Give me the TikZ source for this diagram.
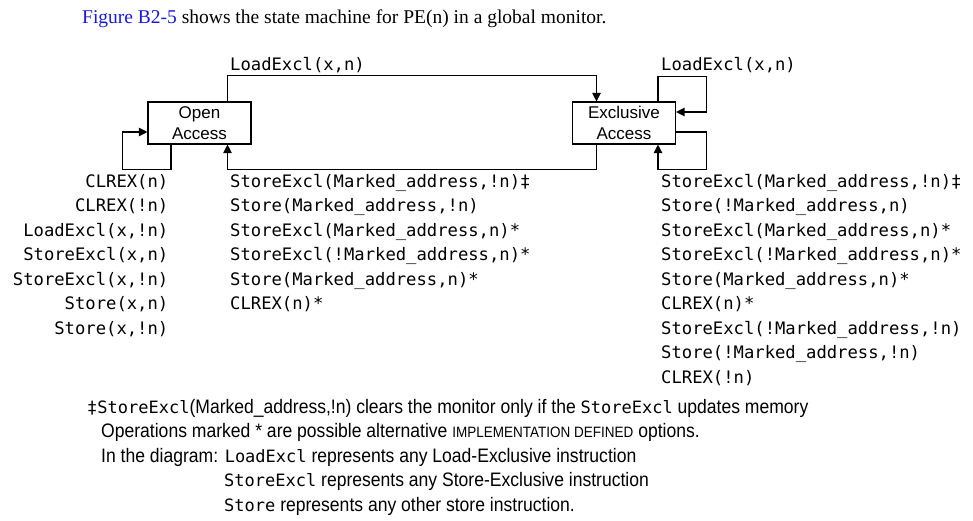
\documentclass[tikz,border=0pt]{standalone}
\usepackage{fontspec}
\setmainfont{Liberation Serif}
\newfontfamily\monofont{DejaVu Sans Mono}
\newfontfamily\boxfont{Liberation Sans}
\newfontfamily\notefont{Liberation Sans}[FakeStretch=0.9]
\usetikzlibrary{arrows.meta}
\definecolor{linkblue}{RGB}{25,25,225}
\newcommand\opname[1]{{\monofont\fontsize{17}{22}\selectfont #1}}

\begin{document}
\begin{tikzpicture}[
    x=1pt,
    y=-1pt,
    line join=miter,
    state/.style={draw,line width=1.1pt,minimum width=103pt,minimum height=42pt,
        inner sep=0pt,align=center,font=\boxfont\fontsize{17}{20.7}\selectfont},
    link/.style={line width=1.1pt,-{Triangle[length=8.5pt,width=8.5pt]}},
    mono/.style={inner sep=0pt,font=\monofont\fontsize{17.2}{20}\selectfont},
    note/.style={inner sep=0pt,anchor=base west,font=\notefont\fontsize{19.5}{22}\selectfont}
]

% =========================================================
% Поле рисунка
% =========================================================

\useasboundingbox (0,0) rectangle (973,521);

\def\dy{24.5}   % шаг строк в списках

% =========================================================
% Заголовок
% =========================================================

\node[inner sep=0pt,anchor=base west,font=\fontsize{19.5}{24}\selectfont] (title) at (82,24)
    {\textcolor{linkblue}{Figure B2-5} shows the state machine for PE(n) in a global monitor.};

% =========================================================
% Состояния
% =========================================================

\node[state] (open) at (199.5,123) {Open\\Access};
\node[state] (excl) at (624,123) {Exclusive\\Access};

% =========================================================
% Переходы
% =========================================================

\draw[link] ([xshift=28pt]open.north) -- ++(0,-26) -| ([xshift=-27.5pt]excl.north);
\draw[link] ([xshift=-27.5pt]excl.south) -- ++(0,25) -| ([xshift=28pt]open.south);

% петля Open Access
\draw[link] ([xshift=-28.5pt]open.south) -- ++(0,25)
    -| ([xshift=-25.3pt,yshift=-9pt]open.west) -- ([yshift=-9pt]open.west);

% петли Exclusive Access
\draw[link] ([xshift=34pt]excl.north) -- ++(0,-25.3)
    -| ([xshift=30pt,yshift=11pt]excl.east) -- ([yshift=11pt]excl.east);
\draw[link] ([yshift=-9pt]excl.east) -- ++(30,0)
    |- ([xshift=34pt,yshift=-25pt]excl.south) -- ([xshift=34pt]excl.south);

% =========================================================
% Подписи переходов
% =========================================================

\node[mono,anchor=base west] (lblTop) at (230,71) {LoadExcl(x,n)};
\node[mono,anchor=base west] (lblLoop) at (661,71) {LoadExcl(x,n)};

\foreach \t [count=\i from 0] in {{CLREX(n)},{CLREX(!n)},{LoadExcl(x,!n)},
    {StoreExcl(x,n)},{StoreExcl(x,!n)},{Store(x,n)},{Store(x,!n)}}
    \node[mono,anchor=base east] (lo\i) at (168.5,{187.3+\dy*\i}) {\t};

\foreach \t [count=\i from 0] in {{StoreExcl(Marked\_address,!n)‡},
    {Store(Marked\_address,!n)},{StoreExcl(Marked\_address,n)*},
    {StoreExcl(!Marked\_address,n)*},{Store(Marked\_address,n)*},{CLREX(n)*}}
    \node[mono,anchor=base west] (lb\i) at (230,{187.3+\dy*\i}) {\t};

\foreach \t [count=\i from 0] in {{StoreExcl(Marked\_address,!n)‡},
    {Store(!Marked\_address,n)},{StoreExcl(Marked\_address,n)*},
    {StoreExcl(!Marked\_address,n)*},{Store(Marked\_address,n)*},{CLREX(n)*},
    {StoreExcl(!Marked\_address,!n)},{Store(!Marked\_address,!n)},{CLREX(!n)}}
    \node[mono,anchor=base west] (le\i) at (661,{187.3+\dy*\i}) {\t};

% =========================================================
% Примечания
% =========================================================

\node[note] (n1) at (87,413) {\opname{‡StoreExcl}(Marked\_address,!n) clears the monitor
    only if the \opname{StoreExcl} updates memory};
\node[note] (n2) at (101,437.5) {Operations marked * are possible alternative
    {\fontsize{15}{15}\selectfont IMPLEMENTATION DEFINED} options.};
\node[note] (n3) at (101,462) {In the diagram: \opname{LoadExcl} represents any
    Load-Exclusive instruction};
\node[note] (n4) at (224,486.5) {\opname{StoreExcl} represents any Store-Exclusive instruction};
\node[note] (n5) at (224,511) {\opname{Store} represents any other store instruction.};

\end{tikzpicture}
\end{document}
